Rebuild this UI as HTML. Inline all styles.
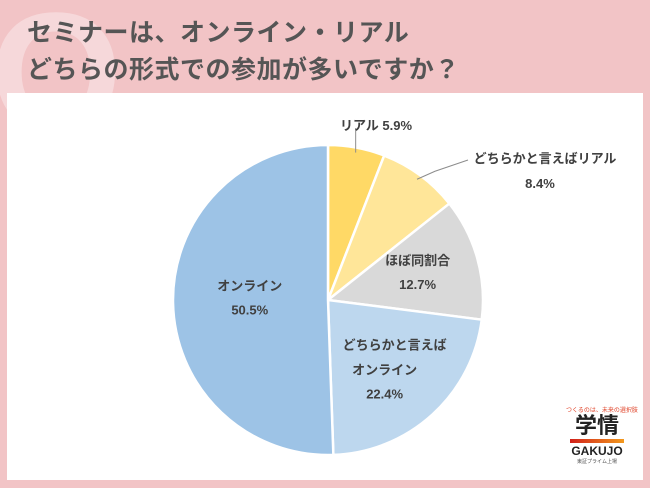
<!DOCTYPE html>
<html><head><meta charset="utf-8"><style>
body{margin:0;width:650px;height:488px;background:#F2C4C6;position:relative;overflow:hidden;font-family:"Liberation Sans","Noto Sans CJK JP",sans-serif}
.t{position:absolute;left:27px;font-size:25px;font-weight:bold;color:#555;letter-spacing:0.5px}
</style></head><body>
<div style="position:absolute;left:-10px;top:-25px;font-size:170px;font-weight:bold;color:rgba(255,255,255,0.35);font-family:'Liberation Sans',sans-serif">Q</div>
<div class="t" style="top:13px">セミナーは、オンライン・リアル</div>
<div class="t" style="top:50px">どちらの形式での参加が多いですか？</div>
<div style="position:absolute;left:7px;top:93px;width:636px;height:387px;background:#fff"></div>
<svg width="650" height="488" style="position:absolute;left:0;top:0" id="svg"></svg>
<div style="position:absolute;left:566px;top:405px;width:62px;text-align:center;color:#222">
<div style="font-size:6px;color:#E0452B;white-space:nowrap">つくるのは、未来の選択肢</div>
<div style="font-size:22px;font-weight:bold;line-height:24px">学情</div>
<div style="height:4px;background:linear-gradient(90deg,#D0201A,#F39A1E);margin:1px 4px"></div>
<div style="font-size:12px;font-weight:bold;line-height:14px">GAKUJO</div>
<div style="font-size:5px;color:#555">東証プライム上場</div>
</div>
<script>
const categories=["リアル","どちらかと言えばリアル","ほぼ同割合","どちらかと言えばオンライン","オンライン"];
const values=[5.9,8.4,12.7,22.4,50.5];
const colors=["#FFD966","#FFE699","#D9D9D9","#BDD7EE","#9DC3E6"];
const svg=document.getElementById('svg');const NS="http://www.w3.org/2000/svg";
const cx=328,cy=300,r=155;
const total=values.reduce((a,b)=>a+b,0);
function pt(a,rr){return [cx+rr*Math.sin(a),cy-rr*Math.cos(a)];}
let acc=0;const mids=[];
values.forEach((v,i)=>{
 const a0=acc/total*2*Math.PI;acc+=v;const a1=acc/total*2*Math.PI;mids.push((a0+a1)/2);
 const p0=pt(a0,r),p1=pt(a1,r);
 const p=document.createElementNS(NS,'path');
 p.setAttribute('d',`M${cx},${cy}L${p0[0]},${p0[1]}A${r},${r} 0 ${a1-a0>Math.PI?1:0} 1 ${p1[0]},${p1[1]}Z`);
 p.setAttribute('fill',colors[i]);p.setAttribute('stroke','#fff');p.setAttribute('stroke-width','2.5');
 
 
 svg.appendChild(p);
});
function txt(x,y,s,name){const t=document.createElementNS(NS,'text');t.setAttribute('x',x);t.setAttribute('y',y);t.setAttribute('text-anchor','middle');t.setAttribute('font-size','13');t.setAttribute('font-weight','bold');t.setAttribute('fill','#404040');t.textContent=s;
 
 
 svg.appendChild(t);}
function line(a,b,name){const l=document.createElementNS(NS,'polyline');l.setAttribute('points',a.join(' '));l.setAttribute('fill','none');l.setAttribute('stroke','#8c8c8c');l.setAttribute('stroke-width','1');
 
 
 svg.appendChild(l);}
let e=pt(mids[0],r-5);line([e[0]+','+e[1],e[0]+','+(cy-r-17)],0,'leader-0');
txt(376,130,categories[0]+' '+values[0]+'%','label-0');
e=pt(mids[1],r-5);line([e[0]+','+e[1],(e[0]+18)+','+(e[1]-8),'468,160'],0,'leader-1');
txt(545,163,categories[1],'label-1');txt(540,188,values[1]+'%','value-1');
const inside=[[2,0.6,0,-2],[3,0.6,0,0],[4,0.55,7,-3]];
inside.forEach(([i,f,dx,dy])=>{const q=pt(mids[i],r*f);
 const x=q[0]+dx,y=q[1]+dy;
 if(i===3){txt(x+4,y-19,'どちらかと言えば','label-'+i);txt(x-6,y+6,'オンライン','label-'+i+'-b');txt(x-6,y+30,values[i]+'%','value-'+i);}
 else{txt(x,y-8,categories[i],'label-'+i);txt(x,y+16,values[i]+'%','value-'+i);}
});
</script>
</body></html>
